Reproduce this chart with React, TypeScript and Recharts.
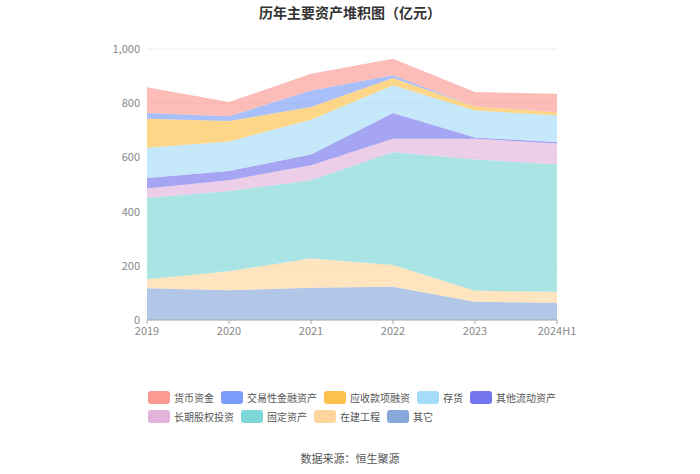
import React from 'react';
import { AreaChart, Area, XAxis, YAxis, CartesianGrid } from 'recharts';

const years = ['2019', '2020', '2021', '2022', '2023', '2024H1'];

// 亿元，从下到上堆叠
const qita = [117, 110, 119, 123, 67, 64];
const zaijian = [33, 70, 108, 80, 41, 40];
const guding = [300, 296, 289, 417, 484, 471];
const changqi = [35, 40, 55, 49, 77, 76];
const qitaLiudong = [39, 34, 40, 95, 4, 6];
const cunhuo = [112, 109, 128, 102, 100, 98];
const yingshou = [107, 75, 47, 27, 15, 12];
const jiaoyi = [21, 18, 61, 10, 0, 0];
const huobi = [95, 52, 62, 61, 53, 68];

const yTicks = [0, 200, 400, 600, 800, 1000];

const series = [
  { key: 'qita', name: '其它', color: '#88a8dc', values: qita },
  { key: 'zaijian', name: '在建工程', color: '#fed69d', values: zaijian },
  { key: 'guding', name: '固定资产', color: '#7ed6d6', values: guding },
  { key: 'changqi', name: '长期股权投资', color: '#e3b3db', values: changqi },
  { key: 'qitaLiudong', name: '其他流动资产', color: '#7474ee', values: qitaLiudong },
  { key: 'cunhuo', name: '存货', color: '#a6dcf7', values: cunhuo },
  { key: 'yingshou', name: '应收款项融资', color: '#fdc04a', values: yingshou },
  { key: 'jiaoyi', name: '交易性金融资产', color: '#7b9cf8', values: jiaoyi },
  { key: 'huobi', name: '货币资金', color: '#fa9a92', values: huobi },
];

const legendOrder = ['huobi', 'jiaoyi', 'yingshou', 'cunhuo', 'qitaLiudong', 'changqi', 'guding', 'zaijian', 'qita'];

const data = years.map((y, i) => {
  const row: Record<string, any> = { year: y };
  series.forEach(s => { row[s.key] = s.values[i]; });
  return row;
});

const FONT = '"Microsoft YaHei", "Noto Sans CJK SC", sans-serif';

const App: React.FC = () => {
  return (
    <div style={{ position: 'absolute', left: 0, top: 0, width: 700, height: 474, background: '#fff', fontFamily: FONT }}>
      <div style={{ position: 'absolute', top: 2, width: 700, textAlign: 'center', fontSize: 14, fontWeight: 'bold', color: '#333' }}>
        历年主要资产堆积图（亿元）
      </div>
      <AreaChart width={700} height={474} data={data} margin={{ top: 49, right: 143, bottom: 124, left: 0 }}>
        <CartesianGrid vertical={false} stroke="#eeeeee" />
        <XAxis
          dataKey="year"
          height={30}
          stroke="#aaa"
          tick={{ fill: '#888', fontSize: 11 }}
          tickSize={4}
          tickMargin={3}
        />
        <YAxis
          width={147}
          domain={[0, 1000]}
          ticks={yTicks}
          axisLine={false}
          tickLine={false}
          tick={{ fill: '#888', fontSize: 11 }}
          tickSize={6}
          tickMargin={1}
          tickFormatter={(v: number) => v.toLocaleString('en-US')}
        />
        {series.map(s => (
          <Area
            key={s.key}
            type="linear"
            dataKey={s.key}
            name={s.name}
            stackId="a"
            stroke="none"
            fill={s.color}
            fillOpacity={0.65}
            isAnimationActive={false}
          />
        ))}
      </AreaChart>

      {/* 图例 */}
      <div style={{ position: 'absolute', left: 148, top: 390, width: 420, display: 'flex', flexWrap: 'wrap', columnGap: 7, rowGap: 5, fontSize: 10, color: '#555' }}>
        {legendOrder.map(k => {
          const s = series.find(x => x.key === k)!;
          return (
            <div key={k} style={{ display: 'flex', alignItems: 'center', height: 14 }}>
              <span style={{ display: 'inline-block', width: 22, height: 13, borderRadius: 3, background: s.color, marginRight: 4 }} />
              <span>{s.name}</span>
            </div>
          );
        })}
      </div>

      <div style={{ position: 'absolute', top: 450, width: 700, textAlign: 'center', fontSize: 11, color: '#555' }}>
        数据来源：恒生聚源
      </div>
    </div>
  );
};

export default App;
